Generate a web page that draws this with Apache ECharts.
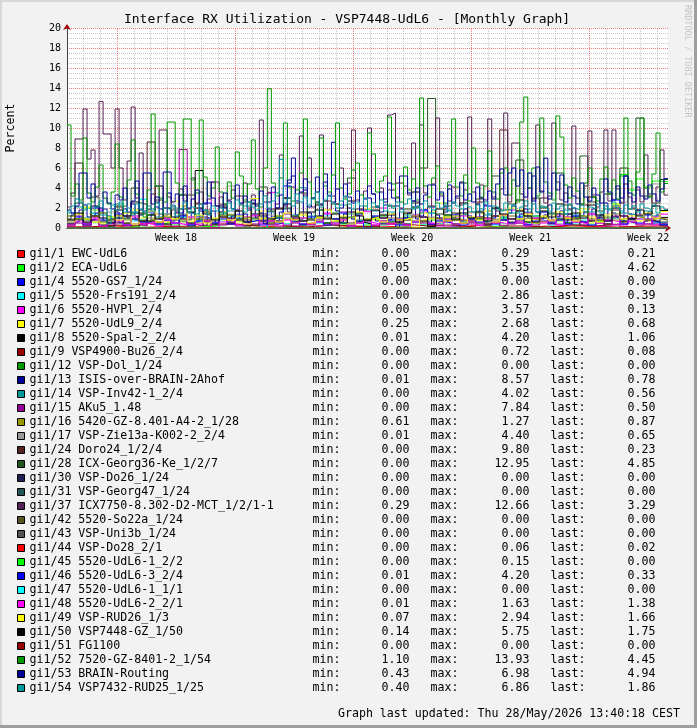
<!DOCTYPE html>
<html><head><meta charset="utf-8">
<script src="https://cdn.jsdelivr.net/npm/echarts@6/dist/echarts.min.js"></script>
<style>html,body{margin:0;padding:0;background:#f2f2f2}#c{width:697px;height:728px}</style>
</head><body><div id="c"></div><script>
// ---------- texts ----------
const TITLE = 'Interface RX Utilization - VSP7448-UdL6 - [Monthly Graph]';
const FOOTER = 'Graph last updated: Thu 28/May/2026 13:40:18 CEST';
const WATERMARK = 'RRDTOOL / TOBI OETIKER';
const Y_NAME = 'Percent';
const WEEK_LABELS = ['Week 18', 'Week 19', 'Week 20', 'Week 21', 'Week 22'];

// ---------- time frame (hours) ----------
const TOTAL_H = 855;          // span of the graph in hours
const FIRST_MIDNIGHT_H = 23;  // first day boundary
const FIRST_WEEK_H = 71;      // first week boundary (Monday 00:00)

// ---------- legend ----------
const NAMES = [
 'gi1/1 EWC-UdL6','gi1/2 ECA-UdL6','gi1/4 5520-GS7_1/24','gi1/5 5520-Frs191_2/4',
 'gi1/6 5520-HVPl_2/4','gi1/7 5520-UdL9_2/4','gi1/8 5520-Spal-2_2/4','gi1/9 VSP4900-Bu26_2/4',
 'gi1/12 VSP-Dol_1/24','gi1/13 ISIS-over-BRAIN-2Ahof','gi1/14 VSP-Inv42-1_2/4','gi1/15 AKu5_1.48',
 'gi1/16 5420-GZ-8.401-A4-2_1/28','gi1/17 VSP-Zie13a-K002-2_2/4','gi1/24 Doro24_1/2/4','gi1/28 ICX-Georg36-Ke_1/2/7',
 'gi1/30 VSP-Do26_1/24','gi1/31 VSP-Georg47_1/24','gi1/37 ICX7750-8.302-D2-MCT_1/2/1-1','gi1/42 5520-So22a_1/24',
 'gi1/43 VSP-Uni3b_1/24','gi1/44 VSP-Do28_2/1','gi1/45 5520-UdL6-1_2/2','gi1/46 5520-UdL6-3_2/4',
 'gi1/47 5520-UdL6-1_1/1','gi1/48 5520-UdL6-2_2/1','gi1/49 VSP-RUD26_1/3','gi1/50 VSP7448-GZ_1/50',
 'gi1/51 FG1100','gi1/52 7520-GZ-8401-2_1/54','gi1/53 BRAIN-Routing','gi1/54 VSP7432-RUD25_1/25'
];
const COLORS = [
 '#ff0000','#00ff00','#0000ff','#00ffff','#ff00ff','#ffff00','#000000','#990000',
 '#009900','#000099','#009999','#990099','#999900','#999999','#552222','#225522',
 '#222255','#225555','#552255','#555522','#555555','#ff0000','#00ff00','#0000ff',
 '#00ffff','#ff00ff','#ffff00','#000000','#990000','#009900','#000099','#009999'
];
const LEG_MIN = ['0.00','0.05','0.00','0.00','0.00','0.25','0.01','0.00','0.00','0.01','0.00','0.00','0.61','0.01','0.00','0.00',
 '0.00','0.00','0.29','0.00','0.00','0.00','0.00','0.01','0.00','0.01','0.07','0.14','0.00','1.10','0.43','0.40'];
const LEG_MAX = ['0.29','5.35','0.00','2.86','3.57','2.68','4.20','0.72','0.00','8.57','4.02','7.84','1.27','4.40','9.80','12.95',
 '0.00','0.00','12.66','0.00','0.00','0.06','0.15','4.20','0.00','1.63','2.94','5.75','0.00','13.93','6.98','6.86'];
const LEG_LAST = ['0.21','4.62','0.00','0.39','0.13','0.68','1.06','0.08','0.00','0.78','0.56','0.50','0.87','0.65','0.23','4.85',
 '0.00','0.00','3.29','0.00','0.00','0.02','0.00','0.33','0.00','1.38','1.66','1.75','0.00','4.45','4.94','1.86'];

// ---------- series values (percent, evenly spaced over the span) ----------
const V_1 = [0.1,0.2,0.05,0.15,0.1,0.29,0.0,0.1,0.2,0.1,0.05,0.15,0.2,0.1,0.0,0.1,0.25,0.1,0.05,0.2,0.1,0.15,0.1,0.2,0.21];
const V_2 = [0.4,0.8,2.0,0.6,0.3,1.1,0.5,0.9,0.2,0.7,1.3,0.4,0.6,0.3,1.0,0.5,0.8,0.2,0.6,1.5,0.4,0.7,0.3,0.9,0.5,0.05,1.2,0.4,0.6,0.8,
 0.3,1.0,0.5,0.7,0.4,1.4,0.6,0.3,0.9,0.5,0.7,0.4,1.1,0.6,0.3,0.8,0.5,1.3,0.4,0.7,0.5,0.9,0.3,0.6,1.0,0.4,0.7,0.5,1.2,0.6,
 0.4,0.8,0.5,1.1,0.3,0.7,0.6,0.9,2.4,5.35,3.8,4.9,4.1,4.7,4.62];
const V_4 = [0];
const V_5 = [0.5,0.9,0.3,1.4,0.6,0.2,1.0,0.4,0.7,2.86,0.6,0.3,0.8,0.5,1.1,0.2,0.6,0.9,0.4,0.7,1.2,0.3,0.5,0.8,0.0,0.6,1.0,0.4,0.7,0.3,
 0.9,0.5,1.3,0.4,0.6,0.2,0.8,0.5,1.1,0.3,0.6,0.9,0.4,0.7,0.3,1.5,0.5,0.8,0.2,0.6,1.0,0.4,0.7,0.3,0.9,0.5,1.2,0.4,0.6,0.8,
 0.3,0.7,1.4,0.5,0.8,0.4,0.6,1.0,0.3,0.7,0.5,0.9,0.4,0.6,0.39];
const V_6 = [0.5,1.2,0.3,0.8,1.9,0.4,0.6,0.2,1.0,0.5,0.3,1.4,0.7,0.2,0.9,0.4,1.1,0.0,0.6,2.3,0.4,0.8,0.3,1.2,0.5,3.57,0.7,0.3,1.0,0.4,
 0.6,0.2,1.5,0.5,0.8,0.3,1.3,0.6,0.4,2.0,0.5,0.9,0.3,0.7,1.6,0.4,0.6,0.2,1.1,0.5,0.8,0.3,1.0,0.6,0.4,1.8,0.5,0.3,0.9,0.6,
 0.4,1.2,0.3,0.7,0.5,1.4,0.2,0.8,0.6,0.3,1.0,0.4,0.7,0.3,0.13];
const V_7 = [1.2,0.8,2.1,0.6,1.5,0.9,1.3,0.5,1.8,0.7,1.0,1.4,0.6,2.68,0.8,1.1,0.5,1.6,0.9,0.7,1.3,0.6,1.0,0.8,1.7,0.5,1.2,0.9,0.6,1.4,
 0.8,1.1,0.25,1.5,0.7,1.0,0.6,1.9,0.8,1.2,0.5,1.0,1.4,0.7,0.9,1.6,0.6,1.1,0.8,1.3,0.6,1.5,0.9,0.7,1.2,0.5,1.8,0.8,1.0,0.6,
 1.3,0.7,1.1,0.9,1.6,0.5,1.0,0.8,1.4,0.6,0.9,1.2,0.7,1.0,0.68];
const V_8 = [0.4,0.9,0.3,1.2,0.6,0.2,1.0,0.5,1.5,0.3,0.7,4.2,0.4,0.8,1.3,0.5,2.0,0.6,0.3,1.1,0.5,0.9,0.2,1.4,0.7,0.4,1.0,2.4,0.6,0.3,
 0.8,1.2,0.5,0.9,0.01,1.6,0.6,0.4,1.1,0.7,1.3,0.5,0.8,2.1,0.6,0.3,1.0,0.7,0.4,1.5,0.6,0.9,0.3,1.2,0.8,0.5,1.7,0.6,0.4,1.0,
 0.7,1.4,0.5,0.9,0.6,2.3,0.8,0.4,1.1,0.7,0.5,1.2,0.8,0.6,1.06];
const V_9 = [0.1,0.3,0.2,0.5,0.1,0.0,0.4,0.2,0.72,0.1,0.3,0.2,0.1,0.4,0.2,0.3,0.1,0.5,0.2,0.1,0.3,0.2,0.4,0.1,0.08];
const V_12 = [0];
const V_13 = [0.9,1.3,0.6,1.8,2.3,1.1,0.8,1.5,2.0,0.7,1.2,0.9,1.6,0.5,1.9,1.0,2.4,0.8,1.3,1.7,
 0.6,1.4,2.1,0.9,1.2,3.5,0.7,1.6,1.0,2.2,0.8,1.5,0.6,1.9,1.1,0.9,1.7,0.5,1.3,2.0,
 0.7,1.2,1.8,0.9,1.4,0.6,2.5,1.0,1.5,0.8,1.9,1.1,0.7,1.6,2.2,4.5,7.0,1.3,0.9,3.8,
 1.5,0.8,2.6,1.2,5.4,1.0,8.57,1.7,0.6,1.4,2.0,0.9,1.3,0.5,1.8,3.0,1.1,0.7,1.6,2.3,
 0.8,1.4,0.01,1.9,1.0,1.5,2.7,0.9,1.2,1.8,0.6,2.1,1.3,0.8,1.6,4.3,1.0,1.4,0.7,1.9,
 1.2,0.9,2.4,1.1,0.6,1.7,1.0,2.0,1.3,0.8,1.5,2.2,0.7,1.4,1.9,1.0,5.2,1.6,0.9,1.3,
 2.3,0.8,1.1,1.7,0.6,1.4,2.0,0.9,1.2,1.6,0.7,1.9,1.0,1.3,2.5,0.8,1.5,1.1,0.6,5.2,
 1.4,0.9,1.8,1.2,0.7,1.6,1.0,1.3,0.9,0.78];
const V_14 = [1.5,2.1,1.0,1.8,1.3,0.9,2.4,1.2,1.6,0.8,1.9,1.1,1.4,2.0,0.7,1.5,1.2,1.8,0.9,1.3,1.7,1.0,2.2,1.4,0.8,1.6,1.1,1.9,1.3,4.02,
 1.2,1.8,1.0,1.5,2.3,1.1,1.4,0.9,1.7,1.2,1.6,1.0,1.3,2.0,1.1,1.5,0.0,1.8,1.2,1.4,1.0,1.7,1.3,1.9,1.1,1.5,0.9,1.6,1.2,2.1,
 1.4,1.0,1.8,1.3,1.1,1.6,1.2,1.9,1.0,1.5,1.3,1.1,1.7,1.2,0.56];
const V_15 = [0.2,0.5,0.1,0.8,0.3,0.0,0.6,1.2,0.4,0.2,0.7,0.3,1.0,0.5,7.84,0.4,0.2,0.9,4.6,0.3,0.6,0.2,1.1,0.4,0.8,0.3,0.5,1.4,0.2,0.7,
 0.4,0.9,0.3,0.6,1.6,0.2,0.5,0.8,0.3,1.0,0.4,0.7,0.2,1.3,0.5,0.3,0.9,0.6,0.2,0.8,0.4,1.1,0.3,0.6,0.2,0.9,0.5,1.5,0.3,0.7,
 0.4,0.2,1.0,0.6,0.3,0.8,0.5,0.2,1.2,0.4,0.7,0.3,0.9,0.4,0.5];
const V_16 = [0.9,1.0,0.8,1.1,0.7,0.9,1.2,0.8,1.0,0.7,0.9,1.1,0.8,1.0,0.61,0.9,1.1,0.8,1.0,1.27,0.8,0.9,1.1,0.7,1.0,0.8,1.2,0.9,0.7,1.0,
 0.8,1.1,0.9,0.7,1.0,1.2,0.8,0.9,1.1,0.7,1.0,0.8,0.9,1.2,0.7,1.0,0.8,1.1,0.9,0.7,1.0,1.1,0.8,0.9,0.7,1.2,0.9,1.0,0.8,1.1,
 0.7,0.9,1.0,0.8,1.2,0.9,0.7,1.1,0.8,1.0,0.9,1.1,0.8,1.0,0.87];
const V_17 = [0.8,1.3,0.5,1.0,0.7,1.6,0.4,0.9,1.2,0.6,1.0,0.5,1.4,0.8,0.3,1.1,0.7,1.8,0.5,2.4,4.2,1.2,0.6,0.9,0.4,1.3,0.7,1.0,0.5,1.5,
 0.8,0.01,1.1,0.6,0.9,1.4,0.5,0.8,1.2,0.6,1.0,0.4,1.7,0.7,0.5,1.1,0.8,0.3,1.3,0.6,0.9,1.5,0.5,0.8,0.4,1.2,0.7,1.0,0.5,1.6,
 0.7,0.4,1.1,0.8,0.6,1.3,0.5,0.9,1.4,2.6,0.7,1.2,3.1,4.4,0.65];
const V_24 = [0.3,6.5,0.5,1.2,0.2,0.8,2.1,0.4,0.0,1.5,8.6,0.6,0.3,1.8,0.9,0.2,2.4,0.7,0.4,1.1,0.5,3.2,0.8,0.3,1.4,0.6,2.0,0.2,0.9,1.6,
 0.4,0.7,2.7,0.3,1.0,0.5,1.9,0.8,0.2,1.3,0.6,4.5,0.4,1.1,0.7,2.2,0.3,0.9,1.5,0.5,0.8,2.6,0.4,1.2,9.8,0.6,1.7,0.3,1.0,3.0,
 0.5,0.9,1.4,0.3,2.3,0.7,1.1,0.4,1.8,0.6,0.9,1.3,0.4,0.7,0.23];
const V_28 = [1.2,2.5,0.8,3.1,1.5,0.6,2.2,1.0,4.0,1.4,0.7,2.8,1.1,0.0,1.9,3.3,0.9,1.6,0.4,2.3,1.3,0.8,2.6,1.0,4.1,1.7,0.6,2.0,1.2,3.5,
 0.9,1.8,0.5,2.4,1.1,5.0,1.5,0.7,2.1,1.3,3.8,0.8,1.9,2.5,6.0,12.95,1.4,2.2,0.9,4.5,1.6,2.9,1.0,5.2,1.8,2.4,6.8,1.2,3.0,2.0,
 1.5,5.5,2.3,1.1,7.2,2.6,1.7,3.4,2.2,6.0,1.9,11.0,3.2,2.5,4.85];
const V_30 = [0];
const V_31 = [0];
const V_37 = [2.1,3.5,8.9,8.9,11.9,6.9,7.8,3.2,12.66,9.4,9.4,6.0,11.9,6.0,2.8,6.7,12.1,3.0,7.5,2.4,
 1.8,3.4,2.6,9.8,9.8,3.1,2.2,1.5,3.9,2.7,1.9,5.0,2.5,3.6,0.29,2.9,4.6,2.2,3.1,1.6,
 2.8,3.8,1.7,2.4,4.5,2.0,3.3,1.2,10.8,2.6,3.5,1.9,2.4,7.3,3.0,1.6,4.1,2.5,9.2,3.3,
 7.0,2.1,3.6,9.3,2.7,1.8,3.2,2.4,6.0,3.1,4.5,9.8,2.8,1.5,3.7,10.0,3.4,2.2,4.0,2.9,
 11.3,11.5,3.1,2.0,4.2,3.3,8.5,2.6,10.3,3.5,2.1,4.4,11.0,3.2,1.9,2.7,4.1,3.0,2.3,3.8,
 11.1,3.6,2.4,4.3,2.8,10.9,3.1,1.7,3.9,11.5,2.6,8.5,8.5,3.4,2.2,4.0,2.9,10.3,3.7,2.5,
 3.2,10.5,4.6,2.8,3.5,1.9,10.2,3.0,2.4,4.2,9.7,3.3,2.1,3.6,9.8,2.7,9.8,3.9,2.5,4.4,
 3.1,2.0,3.8,2.6,7.3,3.4,2.2,4.1,7.8,3.29];
const V_42 = [0];
const V_43 = [0];
const V_44 = [0.0,0.01,0.02,0.0,0.03,0.01,0.0,0.06,0.02,0.0,0.01,0.03,0.0,0.02,0.01,0.04,0.0,0.02,0.01,0.0,0.03,0.01,0.02,0.0,0.02];
const V_45 = [0.0,0.05,0.1,0.0,0.02,0.15,0.0,0.04,0.08,0.0,0.03,0.06,0.0,0.1,0.02,0.0,0.05,0.12,0.0,0.03,0.07,0.0,0.04,0.02,0.0];
const V_46 = [0.6,1.1,0.4,2.0,0.8,0.5,1.4,0.3,0.9,0.6,1.6,0.4,0.8,0.5,1.2,0.3,0.7,2.5,0.5,0.9,0.4,1.3,0.6,0.8,0.3,1.0,0.5,4.2,0.7,0.4,
 1.1,0.6,0.3,0.9,1.5,0.4,0.7,0.01,1.2,0.5,0.8,0.3,1.0,0.6,1.8,0.4,0.7,0.5,1.3,0.3,0.9,0.6,2.2,0.4,0.8,0.5,1.1,0.3,0.7,1.6,
 0.5,0.8,0.4,1.2,0.6,0.3,1.0,0.7,2.8,0.4,0.9,0.5,1.3,0.6,0.33];
const V_47 = [0];
const V_48 = [0.3,0.7,0.4,1.0,0.2,0.5,0.8,0.3,1.2,0.4,0.6,0.2,0.9,0.5,0.3,1.1,0.4,0.7,0.01,0.6,0.9,0.3,0.5,1.3,0.4,0.7,0.2,0.8,0.5,1.0,
 0.3,0.6,1.4,0.4,0.8,0.2,0.5,1.63,0.3,0.7,0.4,0.9,0.3,0.6,1.1,0.5,0.2,0.8,0.4,1.2,0.6,0.3,0.9,0.5,1.3,0.4,0.7,0.2,1.0,0.5,
 0.8,0.3,1.1,0.6,0.4,1.4,0.5,0.8,0.3,1.2,0.6,0.9,0.4,1.1,1.38];
const V_49 = [0.6,1.4,0.9,1.8,0.5,1.1,0.8,1.5,0.4,1.0,1.7,0.6,1.2,0.9,2.2,0.7,1.3,0.5,1.0,1.6,0.8,1.2,0.4,2.94,0.9,1.1,0.6,1.5,0.8,1.3,
 0.5,1.0,1.8,0.7,1.2,0.4,1.6,0.9,1.1,0.6,1.4,0.8,1.0,0.07,1.5,0.9,2.5,0.7,1.2,0.5,1.1,0.8,1.7,0.6,1.3,2.0,0.9,1.4,0.5,1.2,
 0.8,1.6,1.0,0.7,1.9,1.1,0.6,1.3,2.4,0.9,1.2,0.7,1.5,1.0,1.66];
const V_50 = [0.8,1.5,0.6,2.2,1.0,0.5,1.8,1.2,2.6,0.7,1.3,0.9,2.0,1.1,3.3,1.6,5.75,1.4,0.8,2.1,1.0,1.7,0.6,2.4,1.2,0.9,1.9,3.0,1.1,0.7,
 1.6,2.3,0.9,1.4,0.5,2.7,1.2,0.8,1.8,1.0,2.2,0.6,1.5,3.6,1.1,0.14,1.9,1.3,0.8,2.5,1.0,1.6,0.7,2.0,1.4,0.9,2.8,1.2,0.6,1.7,
 1.1,2.4,0.8,1.5,1.0,3.1,1.3,0.7,2.0,1.2,0.9,1.8,1.4,2.2,1.75];
const V_51 = [0];
const V_52 = [10.3,3.2,4.4,2.8,9.0,3.5,2.6,4.1,6.3,3.0,2.4,3.6,8.4,3.1,2.2,4.8,8.8,3.4,2.5,1.1,
 3.8,11.4,4.2,3.0,2.6,10.6,10.6,4.5,3.3,10.9,10.9,4.8,3.5,10.8,5.1,3.2,4.0,8.1,3.6,2.4,
 4.6,3.0,7.6,5.2,2.8,4.4,8.8,3.9,2.1,6.0,13.93,4.5,3.2,5.0,10.5,4.1,2.7,3.8,5.5,10.9,
 4.6,3.0,2.5,9.0,4.2,3.6,5.3,10.5,4.0,2.9,3.4,5.8,6.5,3.3,2.2,9.5,7.4,3.6,4.7,5.2,
 11.1,4.4,3.0,2.6,6.1,3.8,4.9,2.8,13.0,4.2,3.1,5.0,6.2,3.4,2.5,4.6,10.9,4.1,3.2,5.3,
 2.7,8.0,4.5,3.1,4.2,7.7,3.6,2.9,5.5,6.0,3.3,4.8,2.6,10.6,13.1,4.0,6.0,3.2,11.0,4.6,
 3.5,2.8,11.2,9.1,4.3,3.0,5.0,3.7,2.4,4.5,6.0,3.1,2.7,4.9,6.1,3.4,4.8,2.9,5.2,11.0,
 4.7,3.3,5.6,11.0,4.0,3.1,5.4,9.5,3.6,4.45];
const V_53 = [1.8,1.5,2.2,5.5,5.5,3.0,4.4,2.1,1.7,3.6,2.5,1.9,3.3,2.8,4.0,1.6,2.7,4.7,1.8,5.5,
 5.5,2.4,3.1,1.9,5.6,5.6,2.6,3.4,1.5,4.2,2.0,2.9,3.8,1.7,2.4,4.6,3.0,2.2,1.6,3.5,
 2.7,1.9,4.3,2.5,3.2,1.8,2.8,2.2,3.7,0.43,2.6,4.1,2.0,3.3,2.4,4.8,5.2,2.7,3.6,4.9,
 2.1,3.0,5.1,2.4,4.6,3.2,2.6,3.9,2.0,4.4,3.1,2.5,3.7,1.8,2.9,4.2,3.4,2.1,3.6,2.6,
 4.5,3.0,2.2,5.2,5.2,3.5,2.7,4.0,2.4,3.3,4.3,4.3,2.8,3.6,2.1,3.9,2.5,3.2,4.6,2.8,
 3.4,2.6,4.1,3.0,2.3,3.7,2.9,4.4,5.9,3.3,5.5,6.0,4.2,5.8,3.1,5.5,2.7,6.1,3.6,6.98,
 2.9,5.5,3.8,5.3,2.6,4.1,3.2,2.4,4.5,3.1,2.7,4.0,3.3,2.5,4.9,3.6,2.8,4.2,3.0,5.2,
 3.5,2.6,4.1,3.2,2.9,4.3,3.4,2.7,3.9,4.94];
const V_54 = [1.7,2.2,2.9,2.6,1.8,2.4,1.5,2.1,2.7,1.9,0.4,2.3,1.8,2.6,1.6,2.0,1.3,2.4,1.9,1.5,
 2.2,1.7,2.5,1.4,2.0,1.8,2.3,1.2,1.9,2.6,1.6,2.1,1.4,2.4,1.8,1.3,2.2,1.7,2.0,1.5,
 2.5,1.9,2.8,2.3,1.6,2.6,2.1,1.8,2.4,3.2,2.0,2.7,3.5,6.86,2.5,3.0,2.2,3.4,2.6,3.1,
 2.3,2.9,3.6,2.1,2.8,3.3,2.5,2.0,2.7,3.2,2.4,1.9,2.6,2.2,3.0,1.8,2.5,2.1,2.8,1.7,
 2.3,2.0,2.6,1.6,2.4,2.9,1.9,2.2,1.5,2.7,2.1,1.8,2.5,2.0,2.3,1.7,2.6,2.2,1.9,2.4,
 2.1,1.6,2.3,1.9,2.6,1.4,2.2,2.0,1.7,2.5,1.8,2.3,1.5,2.1,2.7,1.9,2.4,1.6,2.2,2.0,
 1.7,2.5,1.9,2.2,1.4,2.4,2.0,1.8,2.3,1.6,2.1,1.9,2.4,1.5,2.2,1.8,2.6,2.0,1.7,2.3,
 1.9,2.2,1.6,2.4,2.0,1.8,2.3,1.5,2.1,1.86];

const VALUE_LISTS = [V_1,V_2,V_4,V_5,V_6,V_7,V_8,V_9,V_12,V_13,V_14,V_15,V_16,V_17,V_24,V_28,
 V_30,V_31,V_37,V_42,V_43,V_44,V_45,V_46,V_47,V_48,V_49,V_50,V_51,V_52,V_53,V_54];

// ---------- build ----------
const MONO = '"DejaVu Sans Mono", monospace';
const FS = 11.6;
const HOURS = Array.from({length: TOTAL_H + 1}, (_, i) => String(i));

function toSteps(vals) {
  const step = TOTAL_H / vals.length;
  const pts = vals.map((v, i) => [i * step, v]);
  pts.push([TOTAL_H, vals[vals.length - 1]]);
  return pts;
}

const series = NAMES.map((name, i) => ({
  name: name, type: 'line', xAxisIndex: 0, yAxisIndex: 1,
  step: 'end', showSymbol: false, symbol: 'none', silent: true, animation: false,
  data: toSteps(VALUE_LISTS[i]),
  lineStyle: { color: COLORS[i], width: 1 },
  itemStyle: { color: COLORS[i] },
  emphasis: { disabled: true }
}));

// time grid (day and week boundaries, in hours)
const DAY_LINES = [], WEEK_LINES = [];
for (let h = FIRST_MIDNIGHT_H; h < TOTAL_H; h += 24) {
  if ((h - FIRST_WEEK_H) % 168 === 0) WEEK_LINES.push(h); else DAY_LINES.push(h);
}
function gridSeries(name, hours, color, z) {
  return { name: name, type: 'line', xAxisIndex: 0, yAxisIndex: 1, data: [], silent: true, animation: false,
    markLine: { silent: true, animation: false, symbol: ['none', 'none'], z: z, label: { show: false },
      emphasis: { disabled: true },
      lineStyle: { color: color, width: 1, type: [1, 1] },
      data: hours.map(h => ({ xAxis: h })) } };
}
series.unshift(gridSeries('_weeks', WEEK_LINES, '#ee8080', 1));
series.unshift(gridSeries('_days', DAY_LINES, '#c8c8c8', 1));

const isMidWeek = i => i >= FIRST_WEEK_H + 84 && (i - FIRST_WEEK_H - 84) % 168 === 0;
const rs = (w) => ({ width: w, fontFamily: MONO, fontSize: FS, lineHeight: 14, color: '#000' });

const chart = echarts.init(document.getElementById('c'), null, { renderer: 'canvas' });
chart.setOption({
  backgroundColor: '#f2f2f2',
  animation: false,
  grid: { left: 67, right: 29, top: 28, bottom: 500, show: true, backgroundColor: '#ffffff', borderWidth: 0, containLabel: false, outerBoundsMode: 'none' },
  xAxis: [
    { type: 'value', min: 0, max: TOTAL_H, position: 'bottom',
      axisLine: { show: false }, axisTick: { show: false }, axisLabel: { show: false }, splitLine: { show: false } },
    { type: 'category', data: HOURS, boundaryGap: false, position: 'bottom',
      axisLine: { show: true, onZero: false, symbol: ['none', 'arrow'], symbolSize: [6, 6], symbolOffset: [0, 3], lineStyle: { color: '#a00000', width: 1 } },
      axisTick: { show: false }, axisLabel: { show: false }, splitLine: { show: false } },
    { type: 'category', data: HOURS, boundaryGap: false, position: 'bottom',
      axisLine: { show: true, onZero: false, lineStyle: { color: '#404040', width: 1 } },
      axisTick: { show: false },
      axisLabel: { show: true, interval: (i) => isMidWeek(i), margin: 5, color: '#000', fontFamily: MONO, fontSize: 10,
        formatter: (v, i) => WEEK_LABELS[Math.round((Number(v) - FIRST_WEEK_H - 84) / 168)] },
      splitLine: { show: false } }
  ],
  yAxis: [
    { type: 'value', min: 0, max: 20, position: 'left',
      axisLine: { show: true, onZero: false, symbol: ['none', 'arrow'], symbolSize: [6, 6], symbolOffset: [0, 4], lineStyle: { color: '#a00000', width: 1 } },
      axisTick: { show: false }, axisLabel: { show: false }, splitLine: { show: false } },
    { type: 'value', min: 0, max: 20, interval: 2, position: 'left',
      axisLine: { show: true, onZero: false, lineStyle: { color: '#404040', width: 1 } },
      axisTick: { show: false },
      axisLabel: { color: '#000', fontFamily: MONO, fontSize: 10, margin: 6 },
      splitLine: { show: true, lineStyle: { color: '#ee8080', width: 1, type: [1, 1] } },
      minorTick: { show: false, splitNumber: 4 },
      minorSplitLine: { show: true, lineStyle: { color: '#c8c8c8', width: 1, type: [1, 1] } },
      name: Y_NAME, nameLocation: 'middle', nameRotate: 90, nameGap: 50,
      nameTextStyle: { fontFamily: MONO, fontSize: FS, color: '#000' } }
  ],
  legend: {
    show: true, orient: 'vertical', left: 17, top: 247, padding: 0, itemGap: 0,
    itemWidth: 7, itemHeight: 7, icon: 'rect', selectedMode: false,
    itemStyle: { borderColor: '#000', borderWidth: 1 },
    data: NAMES,
    textStyle: { fontFamily: MONO, fontSize: FS, color: '#000', lineHeight: 14,
      rich: { n: rs(283), a: rs(55), v: rs(63), b: rs(50), w: rs(70), c: rs(56), x: rs(60) } },
    formatter: (name) => {
      const i = NAMES.indexOf(name);
      return '{n|' + name + '}{a|min:}{v|' + LEG_MIN[i].padStart(6) + '}{b|max:}{w|' + LEG_MAX[i].padStart(7) +
        '}{c|last:}{x|' + LEG_LAST[i].padStart(7) + '}';
    }
  },
  graphic: [
    { type: 'rect', silent: true, shape: { x: 0, y: 0, width: 697, height: 2 }, style: { fill: '#d8d8d8' } },
    { type: 'rect', silent: true, shape: { x: 0, y: 0, width: 2, height: 728 }, style: { fill: '#d8d8d8' } },
    { type: 'rect', silent: true, shape: { x: 0, y: 725, width: 697, height: 3 }, style: { fill: '#9e9e9e' } },
    { type: 'rect', silent: true, shape: { x: 694, y: 0, width: 3, height: 728 }, style: { fill: '#9e9e9e' } },
    { type: 'text', silent: true, x: 347, y: 19.5,
      style: { text: TITLE, font: '13px ' + MONO, fill: '#000', align: 'center', verticalAlign: 'middle', textAlign: 'center', textVerticalAlign: 'middle' } },
    { type: 'text', silent: true, x: 680, y: 714,
      style: { text: FOOTER, font: FS + 'px ' + MONO, fill: '#000', align: 'right', verticalAlign: 'middle', textAlign: 'right', textVerticalAlign: 'middle' } },
    { type: 'text', silent: true, x: 687, y: 5, rotation: -Math.PI / 2,
      style: { text: WATERMARK, font: '8.5px ' + MONO, fill: '#c4c4c4', align: 'left', verticalAlign: 'middle', textAlign: 'left', textVerticalAlign: 'middle' } }
  ],
  series: series
});
</script></body></html>
